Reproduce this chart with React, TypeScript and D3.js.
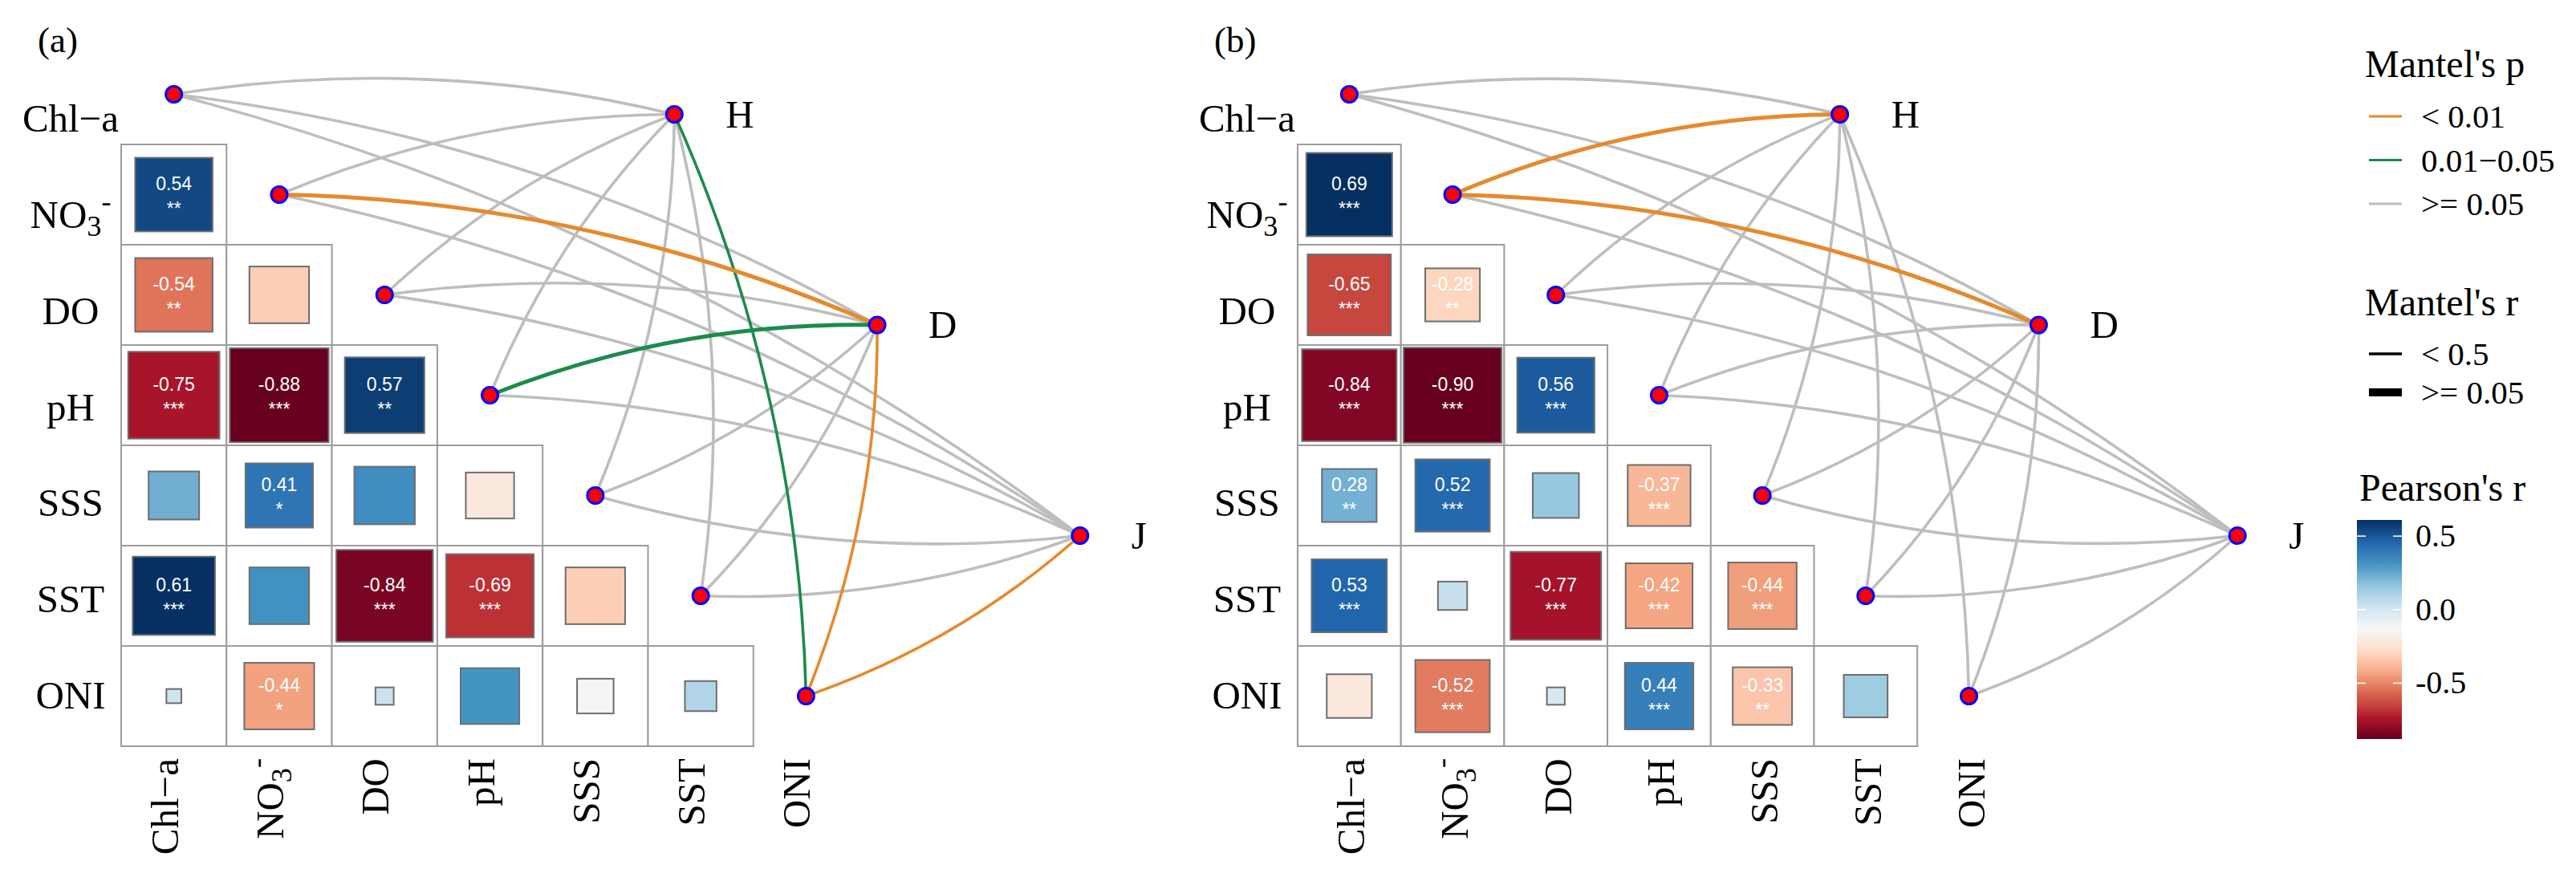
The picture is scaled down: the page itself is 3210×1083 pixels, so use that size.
import React from "react";
import * as d3 from "d3";

// ---------- data ----------
const ENV = ["Chl−a", "NO3", "DO", "pH", "SSS", "SST", "ONI"];
const SPEC = ["H", "D", "J"];
const P_LEVELS = ["< 0.01", "0.01−0.05", ">= 0.05"];
const P_COLORS = ["#E58A2D", "#1E8A4C", "#BEBEBE"];
const R_LEVELS = ["< 0.5", ">= 0.05"];
const RDBU = ["#67001F", "#B2182B", "#D6604D", "#F4A582", "#FDDBC7", "#F7F7F7", "#D1E5F0", "#92C5DE", "#4393C3", "#2166AC", "#053061"];
const COLORBAR_TICKS = [0.5, 0.0, -0.5];

// lower triangle, rows NO3..ONI, columns Chl-a..SST
const corrA = [
  [0.54],
  [-0.54, -0.32],
  [-0.75, -0.88, 0.57],
  [0.23, 0.41, 0.33, -0.21],
  [0.61, 0.32, -0.84, -0.69, -0.32],
  [0.02, -0.44, 0.03, 0.31, -0.12, 0.09],
];
const starsA = [
  ["**"],
  ["**", ""],
  ["***", "***", "**"],
  ["", "*", "", ""],
  ["***", "", "***", "***", ""],
  ["", "*", "", "", "", ""],
];
const corrB = [
  [0.69],
  [-0.65, -0.28],
  [-0.84, -0.9, 0.56],
  [0.28, 0.52, 0.2, -0.37],
  [0.53, 0.08, -0.77, -0.42, -0.44],
  [-0.19, -0.52, 0.03, 0.44, -0.33, 0.18],
];
const starsB = [
  ["***"],
  ["***", "**"],
  ["***", "***", "***"],
  ["**", "***", "", "***"],
  ["***", "", "***", "***", "***"],
  ["", "***", "", "***", "**", ""],
];

// Mantel test: rows H, D, J ; columns = ENV
const mantelPA = [
  [">= 0.05", ">= 0.05", ">= 0.05", ">= 0.05", ">= 0.05", ">= 0.05", "0.01−0.05"],
  [">= 0.05", "< 0.01", ">= 0.05", "0.01−0.05", ">= 0.05", ">= 0.05", "< 0.01"],
  [">= 0.05", ">= 0.05", ">= 0.05", ">= 0.05", ">= 0.05", ">= 0.05", "< 0.01"],
];
const mantelRA = [
  ["< 0.5", "< 0.5", "< 0.5", "< 0.5", "< 0.5", "< 0.5", "< 0.5"],
  ["< 0.5", ">= 0.05", "< 0.5", ">= 0.05", "< 0.5", "< 0.5", "< 0.5"],
  ["< 0.5", "< 0.5", "< 0.5", "< 0.5", "< 0.5", "< 0.5", "< 0.5"],
];
const mantelPB = [
  [">= 0.05", "< 0.01", ">= 0.05", ">= 0.05", ">= 0.05", ">= 0.05", ">= 0.05"],
  [">= 0.05", "< 0.01", ">= 0.05", ">= 0.05", ">= 0.05", ">= 0.05", ">= 0.05"],
  [">= 0.05", ">= 0.05", ">= 0.05", ">= 0.05", ">= 0.05", ">= 0.05", ">= 0.05"],
];
const mantelRB = [
  ["< 0.5", ">= 0.05", "< 0.5", "< 0.5", "< 0.5", "< 0.5", "< 0.5"],
  ["< 0.5", ">= 0.05", "< 0.5", "< 0.5", "< 0.5", "< 0.5", "< 0.5"],
  ["< 0.5", "< 0.5", "< 0.5", "< 0.5", "< 0.5", "< 0.5", "< 0.5"],
];

// ---------- styling ----------
const SERIF = "Liberation Serif, Times New Roman, serif";
const SANS = "Liberation Sans, Arial, sans-serif";
const pColor = d3.scaleOrdinal<string, string>().domain(P_LEVELS).range(P_COLORS);
const rWidth = d3.scaleOrdinal<string, number>().domain(R_LEVELS).range([3.6, 5]);
const rKeyWidth = d3.scaleOrdinal<string, number>().domain(R_LEVELS).range([3.5, 10]);

function makeColor(values: number[]) {
  const [lo, hi] = d3.extent(values) as [number, number];
  return d3
    .scaleLinear<string>()
    .domain(RDBU.map((_, i) => lo + ((hi - lo) * i) / (RDBU.length - 1)))
    .range(RDBU)
    .interpolate(d3.interpolateLab)
    .clamp(true);
}

function Label({ name, fs }: { name: string; fs: number }) {
  if (name === "NO3") {
    return (
      <>
        NO
        <tspan style={{ fontSize: fs * 0.74 }} dy={10}>3</tspan>
        <tspan style={{ fontSize: fs * 0.74 }} dy={-31}>-</tspan>
      </>
    );
  }
  return <>{name}</>;
}

type PanelProps = {
  tag: string;
  left: number;
  cw: number;
  corr: number[][];
  stars: string[][];
  mp: string[][];
  mr: string[][];
  colShift: number;
};

const serifStyle = (fs: number) => ({ fontFamily: SERIF, fontSize: fs });
const sansStyle = (fs: number) => ({ fontFamily: SANS, fontSize: fs });

function Panel({ tag, left, cw, corr, stars, mp, mr, colShift }: PanelProps) {
  const rh = 125;
  const top = 55;
  const fs = 49;
  const x = d3.scaleBand<string>().domain(ENV).range([left, left + cw * ENV.length]);
  const y = d3.scaleBand<string>().domain(ENV).range([top, top + rh * ENV.length]);
  const rowLabelY = d3.scalePoint<string>().domain(ENV).range([164, 883]);
  const color = makeColor(corr.flat());
  // grid-unit scales for spec nodes (linkET style layout)
  const gx = d3.scaleLinear().domain([0, 1]).range([left, left + cw]);
  const gy = d3.scaleLinear().domain([0, 1]).range([top, top + rh]);
  const specPos = SPEC.map((_, i) => [gx(5.25 + 1.925 * i), gy(0.7 + 2.1 * i)]);
  const envPos = ENV.map((e) => [x(e)! + cw / 2, y(e)! + rh / 2]);

  const edges: { d: string; color: string; w: number; grey: boolean }[] = [];
  SPEC.forEach((_, si) => {
    ENV.forEach((_, ei) => {
      const [ex, ey] = envPos[ei];
      const [sx, sy] = specPos[si];
      const dx = sx - ex;
      const dy = sy - ey;
      const sign = ei <= 3 ? 1 : -1;
      const k = 0.1 * sign;
      const cx = (ex + sx) / 2 + k * dy;
      const cy = (ey + sy) / 2 - k * dx;
      const path = d3.path();
      path.moveTo(ex, ey);
      path.quadraticCurveTo(cx, cy, sx, sy);
      edges.push({
        d: path.toString(),
        color: pColor(mp[si][ei]),
        w: rWidth(mr[si][ei]),
        grey: mp[si][ei] === ">= 0.05",
      });
    });
  });
  edges.sort((a, b) => (a.grey === b.grey ? 0 : a.grey ? -1 : 1));

  return (
    <g>
      <text x={left - 104} y={65} style={serifStyle(45)} fill="#000">{tag}</text>
      {/* cells */}
      {corr.map((row, ri) =>
        row.map((v, ci) => {
          const rowName = ENV[ri + 1];
          const colName = ENV[ci];
          const x0 = x(colName)!;
          const y0 = y(rowName)!;
          const s = Math.sqrt(Math.abs(v));
          const w = s * cw;
          const h = s * rh;
          const cx = x0 + cw / 2;
          const cy = y0 + rh / 2;
          const st = stars[ri][ci];
          return (
            <g key={`c${ri}-${ci}`}>
              <rect x={x0} y={y0} width={cw} height={rh} fill="#fff" stroke="#9C9C9C" strokeWidth={2} />
              <rect x={cx - w / 2} y={cy - h / 2} width={w} height={h} fill={color(v)} stroke="#6E6E6E" strokeWidth={2} />
              {st !== "" && (
                <>
                  <text x={cx} y={cy - 5.5} textAnchor="middle" style={sansStyle(23)} fill="#fff">
                    {v.toFixed(2)}
                  </text>
                  <text x={cx} y={cy + 25.5} textAnchor="middle" style={sansStyle(23)} fill="#fff">
                    {st}
                  </text>
                </>
              )}
            </g>
          );
        })
      )}
      {/* row labels */}
      {ENV.map((e) => (
        <text key={`rl${e}`} x={left - 63} y={rowLabelY(e)} textAnchor="middle" style={serifStyle(fs)} fill="#000">
          <Label name={e} fs={fs} />
        </text>
      ))}
      {/* column labels */}
      {ENV.map((e) => (
        <text
          key={`cl${e}`}
          transform={`translate(${x(e)! + cw / 2 + 16 + colShift},945) rotate(-90)`}
          textAnchor="end"
          style={serifStyle(fs)}
          fill="#000"
        >
          <Label name={e} fs={fs} />
        </text>
      ))}
      {/* edges */}
      {edges.map((ed, i) => (
        <path key={`e${i}`} d={ed.d} fill="none" stroke={ed.color} strokeWidth={ed.w} strokeLinecap="round" />
      ))}
      {/* nodes */}
      {envPos.map(([px, py], i) => (
        <circle key={`en${i}`} cx={px} cy={py} r={10} fill="#FF0000" stroke="#0000FF" strokeWidth={3} />
      ))}
      {specPos.map(([px, py], i) => (
        <g key={`sn${i}`}>
          <circle cx={px} cy={py} r={10} fill="#FF0000" stroke="#0000FF" strokeWidth={3} />
          <text x={px + 64} y={py + 16} style={serifStyle(49)} fill="#000">{SPEC[i]}</text>
        </g>
      ))}
    </g>
  );
}

function Legend() {
  const color = makeColor(corrA.flat());
  const [lo, hi] = d3.extent(corrA.flat()) as [number, number];
  const barX = 2937;
  const barW = 56;
  const cy = d3.scaleLinear().domain([hi, lo]).range([648, 921]);
  const stops = d3.range(0, 1.0001, 0.05).map((t) => ({ off: t, c: color(hi - t * (hi - lo)) }));
  const pKeyY = d3.scalePoint<string>().domain(P_LEVELS).range([145, 254]);
  const rKeyY = d3.scalePoint<string>().domain(R_LEVELS).range([441, 489]);
  return (
    <g fill="#000">
      <text x={2947} y={96} style={serifStyle(48)}>Mantel's p</text>
      {P_LEVELS.map((p) => (
        <g key={p}>
          <line x1={2952} x2={2993} y1={pKeyY(p)} y2={pKeyY(p)} stroke={pColor(p)} strokeWidth={3} />
          <text x={3017} y={pKeyY(p)! + 14} style={serifStyle(41)}>{p}</text>
        </g>
      ))}
      <text x={2947} y={393} style={serifStyle(48)}>Mantel's r</text>
      {R_LEVELS.map((r) => (
        <g key={r}>
          <line x1={2952} x2={2993} y1={rKeyY(r)} y2={rKeyY(r)} stroke="#000" strokeWidth={rKeyWidth(r)} />
          <text x={3017} y={rKeyY(r)! + 14} style={serifStyle(41)}>{r}</text>
        </g>
      ))}
      <text x={2940} y={624} style={serifStyle(48)}>Pearson's r</text>
      <defs>
        <linearGradient id="cbar" x1="0" y1="0" x2="0" y2="1">
          {stops.map((s, i) => (
            <stop key={i} offset={s.off} stopColor={s.c} />
          ))}
        </linearGradient>
      </defs>
      <rect x={barX} y={648} width={barW} height={273} fill="url(#cbar)" />
      {COLORBAR_TICKS.map((t) => (
        <g key={t}>
          <line x1={barX} x2={barX + 11} y1={cy(t)} y2={cy(t)} stroke="#fff" strokeWidth={1.5} />
          <line x1={barX + barW - 11} x2={barX + barW} y1={cy(t)} y2={cy(t)} stroke="#fff" strokeWidth={1.5} />
          <text x={3010} y={cy(t) + 13} style={serifStyle(40)}>{t.toFixed(1)}</text>
        </g>
      ))}
    </g>
  );
}

export default function App() {
  return (
    <svg
      width={3210}
      height={1083}
      viewBox="0 0 3210 1083"
      style={{ position: "absolute", left: 0, top: 0, display: "block", background: "#fff" }}
    >
      <rect x={0} y={0} width={3210} height={1083} fill="#fff" />
      <Panel tag="(a)" left={151} cw={131.3} corr={corrA} stars={starsA} mp={mantelPA} mr={mantelRA} colShift={-11} />
      <Panel tag="(b)" left={1617} cw={128.7} corr={corrB} stars={starsB} mp={mantelPB} mr={mantelRB} colShift={3} />
      <Legend />
    </svg>
  );
}
